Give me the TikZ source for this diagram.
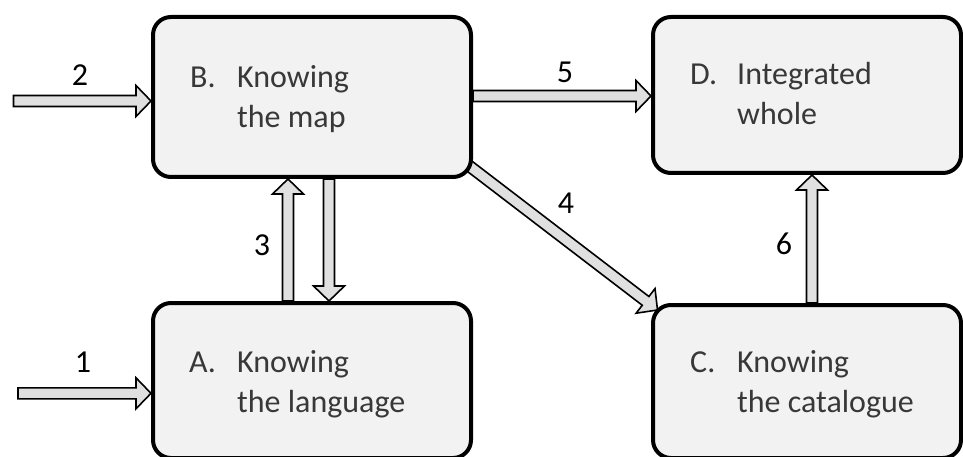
\documentclass[tikz,border=0pt]{standalone}
\usepackage{fontspec}
\setmainfont{Carlito}
\usetikzlibrary{calc}
\definecolor{boxfill}{HTML}{F2F2F2}
\definecolor{arrfill}{HTML}{E0E0E0}
\definecolor{txt}{HTML}{383838}
\tikzset{
  box/.style={draw=black, line width=4pt, fill=boxfill, rounded corners=18pt, inner sep=0pt},
  boxtext/.style={font=\fontsize{32}{38}\selectfont, text=txt, anchor=base west, inner sep=0pt},
  numlabel/.style={font=\fontsize{32}{38}\selectfont, text=black, inner sep=0pt},
  blockarr/.style={draw=black, line width=1.6pt, fill=arrfill, line join=miter}
}
\newcommand\blockarrow[2]{%
  \coordinate (ba-s) at (#1);
  \coordinate (ba-t) at (#2);
  \coordinate (ba-h) at ($(ba-t)!15pt!(ba-s)$);
  \draw[blockarr] ($(ba-s)!5.5pt!90:(ba-t)$) -- ($(ba-h)!5.5pt!-90:(ba-s)$)
    -- ($(ba-h)!15.5pt!-90:(ba-s)$) -- (ba-t) -- ($(ba-h)!15.5pt!90:(ba-s)$)
    -- ($(ba-h)!5.5pt!90:(ba-s)$) -- ($(ba-s)!5.5pt!-90:(ba-t)$) -- cycle;
}
\begin{document}
\begin{tikzpicture}[x=1pt,y=-1pt]
\useasboundingbox (0,0) rectangle (963,457);
% boxes (positions only)
\path (312,97) node[box, minimum width=318pt, minimum height=160pt, draw=none, fill=none] (B) {};
\path (807,95) node[box, minimum width=308pt, minimum height=156pt, draw=none, fill=none] (D) {};
\path (312,380.5) node[box, minimum width=318pt, minimum height=155pt, draw=none, fill=none] (A) {};
\path (807,381.5) node[box, minimum width=308pt, minimum height=153pt, draw=none, fill=none] (C) {};
% connector helper coordinates
\coordinate (in2) at (13.5,101);
\coordinate (in1) at (18,393.3);
\coordinate (y5) at (0,96);
\coordinate (x3) at (288,0);
\coordinate (x3d) at (329,0);
\coordinate (x6) at (812,0);
% arrows
\blockarrow{in2}{in2 -| B.west}
\blockarrow{in1}{in1 -| A.west}
\blockarrow{B.east |- y5}{D.west |- y5}
\blockarrow{$(B.south east)+(-5,-14)$}{$(C.north west)+(6.5,7)$}
\blockarrow{x3 |- A.north}{x3 |- B.south}
\blockarrow{x3d |- B.south}{x3d |- A.north}
\blockarrow{x6 |- C.north}{x6 |- D.south}
% boxes drawn
\node[box, minimum width=318pt, minimum height=160pt] (Bbox) at (B) {};
\node[box, minimum width=308pt, minimum height=156pt] (Dbox) at (D) {};
\node[box, minimum width=318pt, minimum height=155pt] (Abox) at (A) {};
\node[box, minimum width=308pt, minimum height=153pt] (Cbox) at (C) {};
% box texts
\node[boxtext] (Bl) at (190,88) {B.};
\node[boxtext] (B1) at (237,88) {Knowing};
\node[boxtext] (B2) at (237,127.5) {the map};
\node[boxtext] (Dl) at (690,85) {D.};
\node[boxtext] (D1) at (737,85) {Integrated};
\node[boxtext] (D2) at (737,125) {whole};
\node[boxtext] (Al) at (189,372) {A.};
\node[boxtext] (A1) at (237,372) {Knowing};
\node[boxtext] (A2) at (237,412) {the language};
\node[boxtext] (Cl) at (690,372) {C.};
\node[boxtext] (C1) at (737,372) {Knowing};
\node[boxtext] (C2) at (737,412) {the catalogue};
% connector labels
\node[numlabel] (n2) at (80,75) {2};
\node[numlabel] (n1) at (83,362) {1};
\node[numlabel] (n5) at (565,72) {5};
\node[numlabel] (n4) at (566,203) {4};
\node[numlabel] (n3) at (262,245) {3};
\node[numlabel] (n6) at (784,244) {6};
\end{tikzpicture}
\end{document}
